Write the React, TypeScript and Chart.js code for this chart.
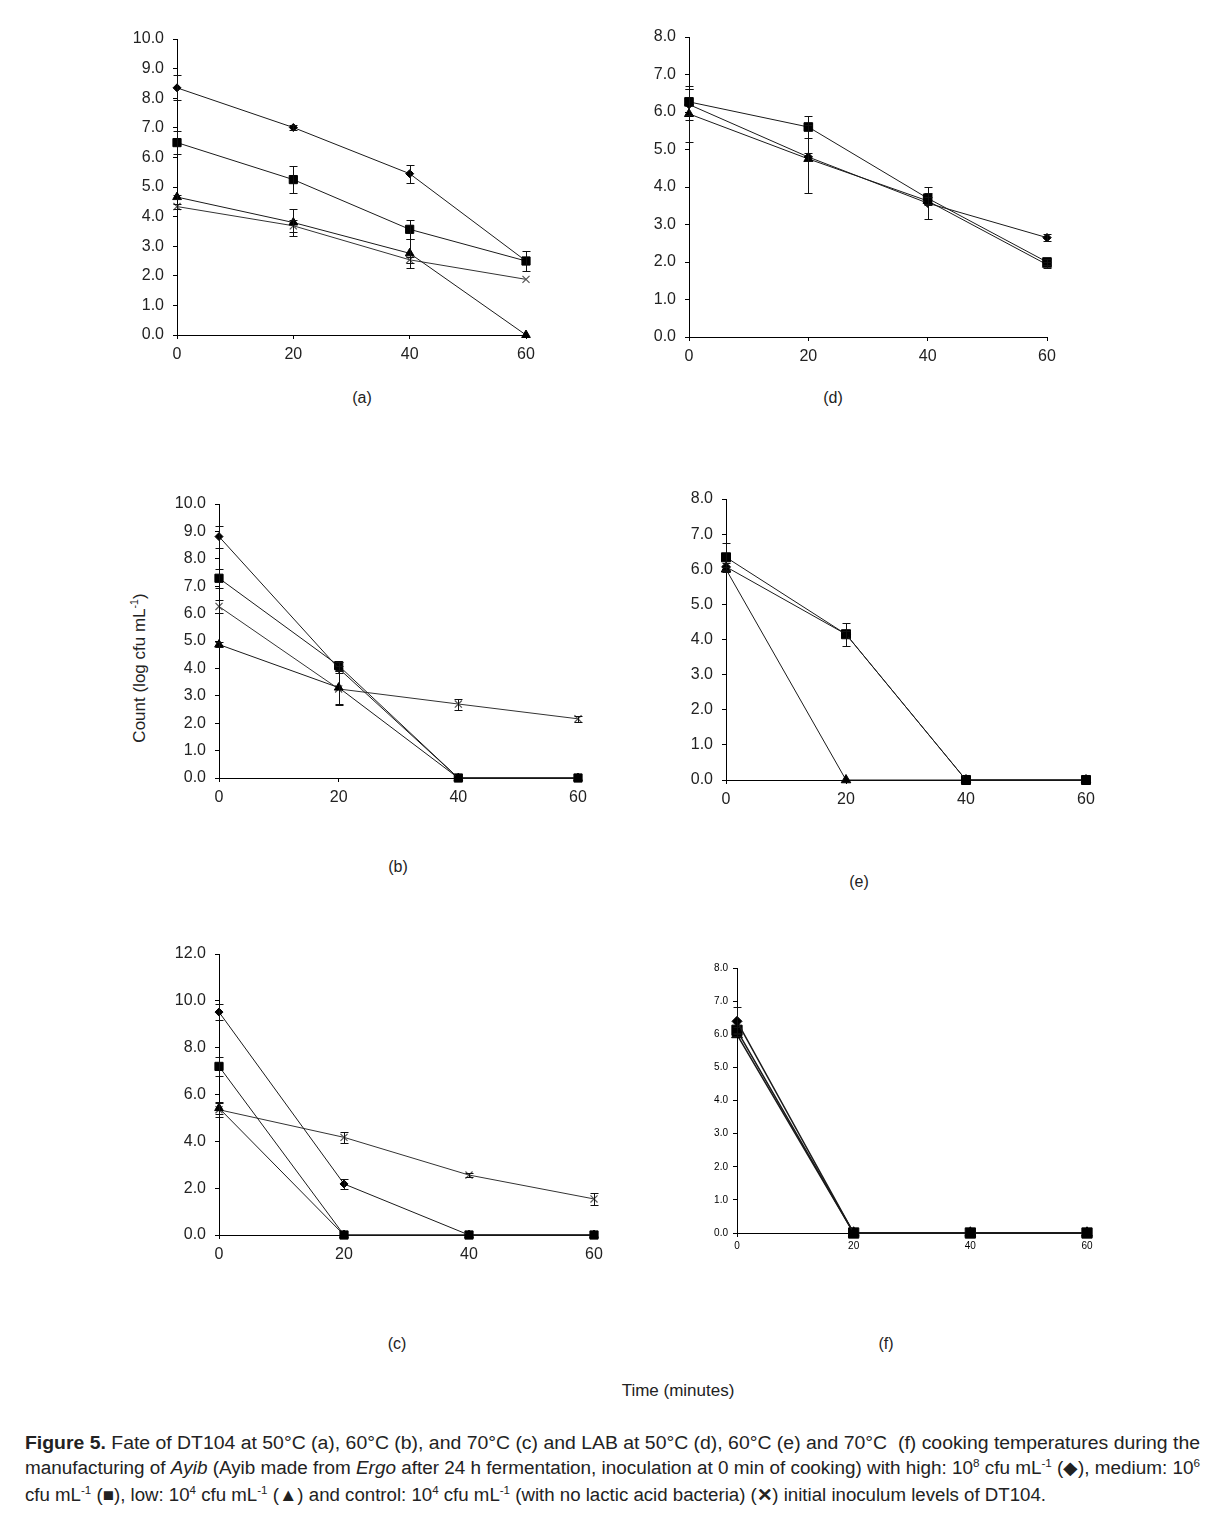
import React, { useEffect, useLayoutEffect, useRef } from 'react';
import { Chart, registerables } from 'chart.js';

Chart.register(...registerables);

// ---------------- DATA ----------------
const timeMinutes = [0, 20, 40, 60];
const timeTicks = ['0', '20', '40', '60'];

// (a) DT104 at 50°C
const aHigh = [8.35, 7.01, 5.45, 2.5];
const aHighErr = [0.42, 0.1, 0.31, 0];
const aMedium = [6.5, 5.25, 3.57, 2.5];
const aMediumErr = [0.38, 0.45, 0.31, 0.33];
const aLow = [4.66, 3.8, 2.76, 0];
const aLowErr = [0.08, 0.47, 0.5, 0];
const aControl = [4.34, 3.69, 2.54, 1.88];
const aControlErr = [0.1, 0.2, 0.1, 0];

// (d) LAB at 50°C
const dHigh = [6.2, 4.8, 3.57, 2.65];
const dHighErr = [0.4, 0.1, 0.42, 0.09];
const dMedium = [6.27, 5.6, 3.7, 2.0];
const dMediumErr = [0.35, 0.3, 0.15, 0.08];
const dLow = [5.95, 4.75, 3.63, 1.93];
const dLowErr = [0.75, 0.9, 0.1, 0.08];

// (b) DT104 at 60°C
const bHigh = [8.81, 4.0, 0, 0];
const bHighErr = [0.4, 0.1, 0, 0];
const bMedium = [7.29, 4.1, 0, 0];
const bMediumErr = [0.35, 0.15, 0, 0];
const bLow = [4.87, 3.3, 0, 0];
const bLowErr = [0.1, 0.6, 0, 0];
const bControl = [6.26, 3.25, 2.7, 2.16];
const bControlErr = [0.22, 0.6, 0.2, 0.12];

// (e) LAB at 60°C
const eHigh = [6.07, 4.15, 0, 0];
const eHighErr = [0.1, 0.1, 0, 0];
const eMedium = [6.34, 4.15, 0, 0];
const eMediumErr = [0.42, 0.33, 0, 0];
const eLow = [6.0, 0, 0, 0];
const eLowErr = [0.05, 0, 0, 0];

// (c) DT104 at 70°C
const cHigh = [9.52, 2.18, 0, 0];
const cHighErr = [0.35, 0.22, 0, 0];
const cMedium = [7.2, 0, 0, 0];
const cMediumErr = [0.42, 0, 0, 0];
const cLow = [5.42, 0, 0, 0];
const cLowErr = [0.25, 0, 0, 0];
const cControl = [5.35, 4.17, 2.56, 1.54];
const cControlErr = [0.3, 0.22, 0.07, 0.25];

// (f) LAB at 70°C
const fHigh = [6.39, 0, 0, 0];
const fHighErr = [0.44, 0, 0, 0];
const fMedium = [6.12, 0, 0, 0];
const fMediumErr = [0.1, 0, 0, 0];
const fLow = [5.99, 0, 0, 0];
const fLowErr = [0.05, 0, 0, 0];

// ---------------- STYLE / LAYOUT ----------------
type Kind = 'high' | 'medium' | 'low' | 'control';
type Series = { kind: Kind; values: number[]; errors: number[] };
type PanelSpec = {
  key: string;
  left: number; top: number; right: number; bottom: number;
  yMax: number; yStep: number;
  font: number; xPad: number; yPad: number; tickColor: string;
  marker: number; lineWidth: number; cap: number;
  series: Series[];
};

const FONT = '"Liberation Sans", Arial, Helvetica, sans-serif';
const TEXT = '#222';

const panels: PanelSpec[] = [
  {
    key: 'a', left: 177, top: 39, right: 526, bottom: 335, yMax: 10, yStep: 1,
    font: 16, xPad: 6, yPad: 9, tickColor: TEXT, marker: 1, lineWidth: 1, cap: 4,
    series: [
      { kind: 'high', values: aHigh, errors: aHighErr },
      { kind: 'medium', values: aMedium, errors: aMediumErr },
      { kind: 'low', values: aLow, errors: aLowErr },
      { kind: 'control', values: aControl, errors: aControlErr },
    ],
  },
  {
    key: 'd', left: 689, top: 37, right: 1047, bottom: 337, yMax: 8, yStep: 1,
    font: 16, xPad: 6, yPad: 9, tickColor: TEXT, marker: 1.05, lineWidth: 1, cap: 4,
    series: [
      { kind: 'high', values: dHigh, errors: dHighErr },
      { kind: 'medium', values: dMedium, errors: dMediumErr },
      { kind: 'low', values: dLow, errors: dLowErr },
    ],
  },
  {
    key: 'b', left: 219, top: 504, right: 578, bottom: 778, yMax: 10, yStep: 1,
    font: 16, xPad: 6, yPad: 9, tickColor: TEXT, marker: 1, lineWidth: 1, cap: 4,
    series: [
      { kind: 'high', values: bHigh, errors: bHighErr },
      { kind: 'medium', values: bMedium, errors: bMediumErr },
      { kind: 'low', values: bLow, errors: bLowErr },
      { kind: 'control', values: bControl, errors: bControlErr },
    ],
  },
  {
    key: 'e', left: 726, top: 499, right: 1086, bottom: 780, yMax: 8, yStep: 1,
    font: 16, xPad: 6, yPad: 9, tickColor: TEXT, marker: 1.1, lineWidth: 1, cap: 4,
    series: [
      { kind: 'high', values: eHigh, errors: eHighErr },
      { kind: 'medium', values: eMedium, errors: eMediumErr },
      { kind: 'low', values: eLow, errors: eLowErr },
    ],
  },
  {
    key: 'c', left: 219, top: 954, right: 594, bottom: 1235, yMax: 12, yStep: 2,
    font: 16, xPad: 6, yPad: 9, tickColor: TEXT, marker: 1, lineWidth: 1, cap: 4,
    series: [
      { kind: 'high', values: cHigh, errors: cHighErr },
      { kind: 'medium', values: cMedium, errors: cMediumErr },
      { kind: 'low', values: cLow, errors: cLowErr },
      { kind: 'control', values: cControl, errors: cControlErr },
    ],
  },
  {
    key: 'f', left: 737, top: 968, right: 1087, bottom: 1233, yMax: 8, yStep: 1,
    font: 10, xPad: 3, yPad: 5, tickColor: '#000', marker: 1.25, lineWidth: 1.5, cap: 4,
    series: [
      { kind: 'high', values: fHigh, errors: fHighErr },
      { kind: 'medium', values: fMedium, errors: fMediumErr },
      { kind: 'low', values: fLow, errors: fLowErr },
    ],
  },
];

const markerStyle: Record<Kind, { style: string; radius: number; color: string; line: string }> = {
  high: { style: 'rectRot', radius: 4, color: '#000', line: '#1a1a1a' },
  medium: { style: 'rect', radius: 5.8, color: '#000', line: '#1a1a1a' },
  low: { style: 'triangle', radius: 5, color: '#000', line: '#1a1a1a' },
  control: { style: 'crossRot', radius: 5, color: '#555', line: '#333' },
};

const errorBarPlugin = {
  id: 'errorBars',
  afterDatasetsDraw(chart: any) {
    const { ctx } = chart;
    const xs = chart.scales.x;
    const ys = chart.scales.y;
    ctx.save();
    ctx.strokeStyle = '#111';
    ctx.lineWidth = 1;
    chart.data.datasets.forEach((ds: any) => {
      const errs: number[] = ds.errors;
      const cap: number = ds.errorCap || 4;
      if (!errs) return;
      ds.data.forEach((pt: any, i: number) => {
        const e = errs[i];
        if (!e) return;
        const px = Math.round(xs.getPixelForValue(pt.x)) + 0.5;
        const yTop = Math.round(ys.getPixelForValue(pt.y + e)) + 0.5;
        const yBot = Math.round(ys.getPixelForValue(pt.y - e)) + 0.5;
        ctx.beginPath();
        ctx.moveTo(px, yTop);
        ctx.lineTo(px, yBot);
        ctx.moveTo(px - cap, yTop);
        ctx.lineTo(px + cap, yTop);
        ctx.moveTo(px - cap, yBot);
        ctx.lineTo(px + cap, yBot);
        ctx.stroke();
      });
    });
    ctx.restore();
  },
};

const PAD_L = 10, AX_W = 50, PAD_T = 12, PAD_R = 22, AX_H = 30, PAD_B = 2;

function Panel({ spec }: { spec: PanelSpec }) {
  const ref = useRef<HTMLCanvasElement>(null);
  const w = spec.right - spec.left + PAD_L + AX_W + PAD_R;
  const h = spec.bottom - spec.top + PAD_T + AX_H + PAD_B;
  useEffect(() => {
    if (!ref.current) return;
    const datasets = spec.series.map((s) => {
      const m = markerStyle[s.kind];
      return {
        label: s.kind,
        data: timeMinutes.map((t, i) => ({ x: t, y: s.values[i] })),
        errors: s.errors,
        errorCap: spec.cap,
        borderColor: m.line,
        borderWidth: spec.lineWidth,
        backgroundColor: m.color,
        pointStyle: m.style,
        pointRadius: m.radius * spec.marker,
        pointBorderColor: m.color,
        pointBackgroundColor: m.color,
        pointBorderWidth: s.kind === 'control' ? 1.2 : 1,
        tension: 0,
        fill: false,
        clip: false,
      } as any;
    });
    const tickFont = { family: FONT, size: spec.font };
    const chart = new Chart(ref.current, {
      type: 'line',
      data: { datasets },
      options: {
        animation: false,
        responsive: false,
        devicePixelRatio: 1,
        layout: { padding: { left: PAD_L, top: PAD_T, right: PAD_R, bottom: PAD_B } },
        plugins: { legend: { display: false }, tooltip: { enabled: false }, title: { display: false } },
        events: [],
        scales: {
          x: {
            type: 'linear',
            min: 0,
            max: 60,
            ticks: {
              stepSize: 20,
              color: spec.tickColor,
              font: tickFont,
              padding: spec.xPad,
              maxRotation: 0,
              callback: (v: any) => timeTicks[timeMinutes.indexOf(Number(v))] ?? '',
            },
            grid: { display: true, drawOnChartArea: false, drawTicks: true, tickLength: 4, color: '#000' },
            border: { display: true, color: '#000', width: 1 },
            afterFit: (s: any) => { s.height = AX_H; s.paddingLeft = 0; s.paddingRight = 0; },
          },
          y: {
            type: 'linear',
            min: 0,
            max: spec.yMax,
            ticks: {
              stepSize: spec.yStep,
              color: spec.tickColor,
              font: tickFont,
              padding: spec.yPad,
              callback: (v: any) => Number(v).toFixed(1),
            },
            grid: { display: true, drawOnChartArea: false, drawTicks: true, tickLength: 4, color: '#000' },
            border: { display: true, color: '#000', width: 1 },
            afterFit: (s: any) => { s.width = AX_W; s.paddingTop = 0; s.paddingBottom = 0; },
          },
        },
      } as any,
      plugins: [errorBarPlugin as any],
    });
    return () => chart.destroy();
  }, [spec]);
  return (
    <canvas
      ref={ref}
      width={w}
      height={h}
      style={{
        position: 'absolute',
        left: spec.left - PAD_L - AX_W,
        top: spec.top - PAD_T,
        width: w,
        height: h,
      }}
    />
  );
}

function FitLine({ left, top, width, children }: { left: number; top: number; width: number; children: React.ReactNode }) {
  const ref = useRef<HTMLDivElement>(null);
  useLayoutEffect(() => {
    const el = ref.current;
    if (!el) return;
    el.style.transform = 'none';
    const natural = el.getBoundingClientRect().width;
    if (natural > 0) el.style.transform = `scaleX(${width / natural})`;
  }, [width]);
  return (
    <div
      ref={ref}
      style={{
        position: 'absolute',
        left,
        top,
        whiteSpace: 'nowrap',
        display: 'inline-block',
        transformOrigin: '0 0',
        fontFamily: FONT,
        fontSize: 18,
        lineHeight: '22px',
        color: TEXT,
      }}
    >
      {children}
    </div>
  );
}

const supStyle: React.CSSProperties = { fontSize: '0.62em', verticalAlign: 'super', lineHeight: 0 };

const panelLabels = [
  { text: '(a)', x: 362, y: 398 },
  { text: '(d)', x: 833, y: 398 },
  { text: '(b)', x: 398, y: 867 },
  { text: '(e)', x: 859, y: 882 },
  { text: '(c)', x: 397, y: 1344 },
  { text: '(f)', x: 886, y: 1344 },
];

export default function App() {
  return (
    <div style={{ position: 'absolute', left: 0, top: 0, width: 1216, height: 1526, background: '#fff' }}>
      {panels.map((p) => (
        <Panel key={p.key} spec={p} />
      ))}
      {panelLabels.map((l) => (
        <div
          key={l.text}
          style={{
            position: 'absolute',
            left: l.x - 30,
            top: l.y - 10,
            width: 60,
            height: 20,
            lineHeight: '20px',
            textAlign: 'center',
            fontFamily: FONT,
            fontSize: 16,
            color: TEXT,
          }}
        >
          {l.text}
        </div>
      ))}
      <div
        style={{
          position: 'absolute',
          left: 140 - 120,
          top: 668 - 11,
          width: 240,
          height: 22,
          lineHeight: '22px',
          textAlign: 'center',
          fontFamily: FONT,
          fontSize: 17,
          color: TEXT,
          transform: 'rotate(-90deg)',
          transformOrigin: '50% 50%',
          whiteSpace: 'nowrap',
        }}
      >
        Count (log cfu mL<span style={supStyle}>-1</span>)
      </div>
      <div
        style={{
          position: 'absolute',
          left: 678 - 100,
          top: 1391 - 11,
          width: 200,
          height: 22,
          lineHeight: '22px',
          textAlign: 'center',
          fontFamily: FONT,
          fontSize: 17,
          color: TEXT,
        }}
      >
        Time (minutes)
      </div>
      <FitLine left={25} top={1432} width={1175}>
        <b>Figure 5.</b> Fate of DT104 at 50°C (a), 60°C (b), and 70°C (c) and LAB at 50°C (d), 60°C (e) and 70°C&nbsp; (f) cooking temperatures during the
      </FitLine>
      <FitLine left={25} top={1457} width={1175}>
        manufacturing of <i>Ayib</i> (Ayib made from <i>Ergo</i> after 24 h fermentation, inoculation at 0 min of cooking) with high: 10<span style={supStyle}>8</span> cfu mL<span style={supStyle}>-1</span> (◆), medium: 10<span style={supStyle}>6</span>
      </FitLine>
      <FitLine left={25} top={1484} width={1021}>
        cfu mL<span style={supStyle}>-1</span> (■), low: 10<span style={supStyle}>4</span> cfu mL<span style={supStyle}>-1</span> (▲) and control: 10<span style={supStyle}>4</span> cfu mL<span style={supStyle}>-1</span> (with no lactic acid bacteria) (<b>✕</b>) initial inoculum levels of DT104.
      </FitLine>
    </div>
  );
}
